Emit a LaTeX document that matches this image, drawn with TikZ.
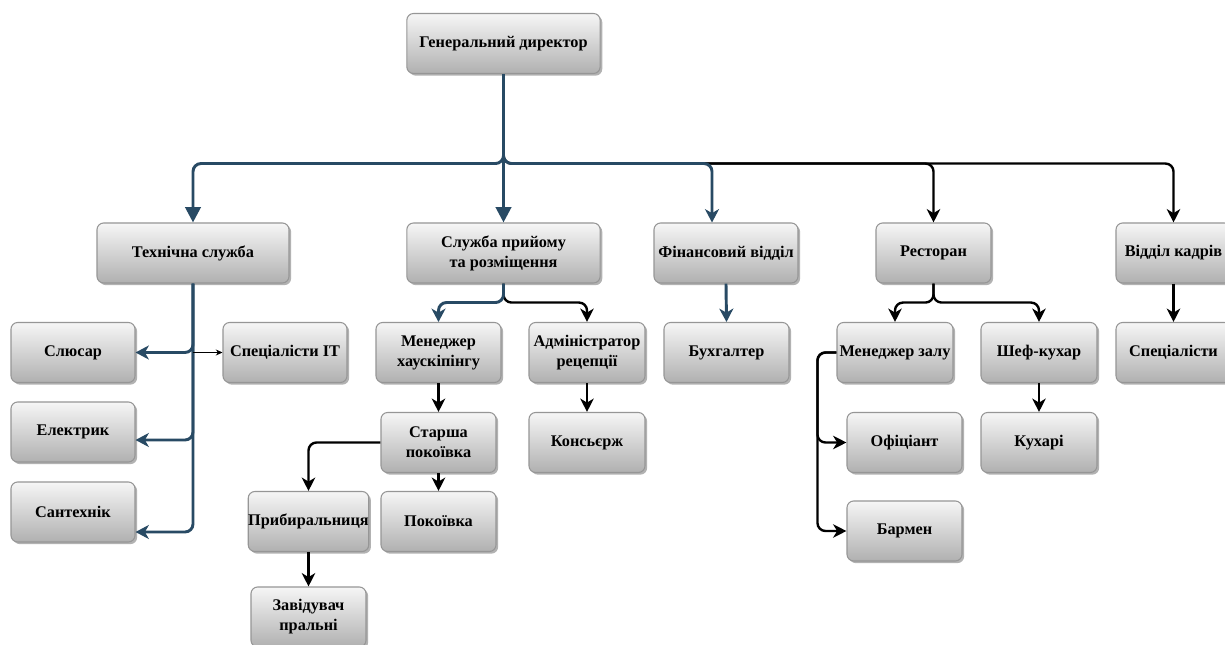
\documentclass[tikz,border=0pt]{standalone}
\usepackage{fontspec}
\setmainfont{Liberation Serif}
\usetikzlibrary{arrows.meta,shadows,calc}
\definecolor{lnblue}{RGB}{40,74,100}
\definecolor{boxborder}{RGB}{150,150,150}
\definecolor{boxtop}{RGB}{246,246,246}
\definecolor{boxbot}{RGB}{176,176,176}
\tikzset{
  box/.style={draw=boxborder, line width=0.8pt, rounded corners=5pt,
    top color=boxtop, bottom color=boxbot, minimum height=45pt,
    minimum width=#1, align=center, inner sep=0pt,
    font=\fontsize{12.2}{15}\selectfont\bfseries,
    drop shadow={shadow xshift=1.6pt, shadow yshift=-1.6pt, opacity=0.3, fill=black}},
  blueln/.style={draw=lnblue, line width=2.2pt, rounded corners=6pt},
  blackln/.style={draw=black, line width=1.8pt, rounded corners=6pt},
  bigtri/.style={-{Triangle[length=11.5pt,width=11.5pt]}},
  cls/.style={-{Stealth[length=10pt,width=10.5pt,inset=3pt]}},
  clsb/.style={-{Stealth[length=10pt,width=10pt,inset=3pt]}},
}
\begin{document}
\begin{tikzpicture}[x=0.75pt,y=-0.75pt]
\clip (0,0) rectangle (1225,645);
\fill[white] (0,0) rectangle (1225,645);
% nodes
\node[box=145pt] (gd) at (503.5,43.5) {Генеральний директор};
\node[box=144pt] (tech) at (193,253) {Технічна служба};
\node[box=145pt] (sl) at (503.5,253) {Служба прийому\\та розміщення};
\node[box=108pt] (fin) at (726,253) {Фінансовий відділ};
\node[box=86.25pt] (rest) at (933.5,253) {Ресторан};
\node[box=86.25pt] (kadr) at (1173.5,253) {Відділ кадрів};
\node[box=93pt] (slu) at (73,352.5) {Слюсар};
\node[box=93pt] (elek) at (73,432) {Електрик};
\node[box=93pt] (sant) at (73,512) {Сантехнік};
\node[box=93pt] (it) at (285,352.5) {Спеціалісти IT};
\node[box=93.75pt] (mh) at (438.5,352.5) {Менеджер\\хаускіпінгу};
\node[box=87pt] (adm) at (587,352.5) {Адміністратор\\рецепції};
\node[box=86.25pt] (star) at (438.5,442.5) {Старша\\покоївка};
\node[box=87pt] (kons) at (587,442.5) {Консьєрж};
\node[box=86.25pt] (pryb) at (308.5,521.5) {Прибиральниця};
\node[box=86.25pt] (pok) at (438.5,521.5) {Покоївка};
\node[box=86.25pt] (zav) at (308.5,617) {Завідувач\\пральні};
\node[box=93.75pt] (buh) at (726.5,352.5) {Бухгалтер};
\node[box=87pt] (mz) at (895,352.5) {Менеджер залу};
\node[box=87pt] (shef) at (1039,352.5) {Шеф-кухар};
\node[box=86.25pt] (spec) at (1173.5,352.5) {Спеціалісти};
\node[box=86.25pt] (ofi) at (904.5,442.5) {Офіціант};
\node[box=87pt] (kuh) at (1039,442.5) {Кухарі};
\node[box=86.25pt] (bar) at (904.5,531) {Бармен};
% top level
\draw[blackln,clsb] (gd.south) -- ++(0,89.5) -| (rest.north);
\draw[blackln,clsb] (gd.south) -- ++(0,89.5) -| (kadr.north);
\draw[blueln,bigtri] (gd.south) -- ++(0,89.5) -| (tech.north);
\draw[blueln,bigtri] (gd.south) -- (sl.north);
\draw[blueln,cls] (gd.south) -- ++(0,89.5) -| ([xshift=-10.5pt]fin.north);
\draw[blueln,cls] (fin.south) -- (buh.north);
% technical
\draw[blueln,cls] (tech.south) |- (slu.east);
\draw[blueln,cls] (tech.south) |- ([yshift=-6pt]elek.east);
\draw[blueln,cls] (tech.south) |- ([yshift=-15pt]sant.east);
\draw[black,line width=0.6pt,-{Stealth[length=5pt,width=4.5pt]}] (tech.south |- it.west) -- (it.west);
% reception
\draw[blackln,clsb] (sl.south) -- ++(0,19) -| (adm.north);
\draw[blueln,cls] (sl.south) -- ++(0,19) -| (mh.north);
\draw[blackln,clsb] (mh.south) -- (star.north);
\draw[blackln,clsb] (star.south) -- (pok.north);
\draw[blackln,clsb] (star.west) -| (pryb.north);
\draw[blackln,clsb] (pryb.south) -- (zav.north);
\draw[blackln,clsb] (adm.south) -- (kons.north);
% restaurant
\draw[blackln,clsb] (rest.south) -- ++(0,19) -| (mz.north);
\draw[blackln,clsb] (rest.south) -- ++(0,19) -| (shef.north);
\draw[blackln,clsb] (mz.west) -- ++(-19,0) |- (ofi.west);
\draw[blackln,clsb] (mz.west) -- ++(-19,0) |- (bar.west);
\draw[blackln,clsb] (shef.south) -- (kuh.north);
\draw[blackln,clsb] (kadr.south) -- (spec.north);
\end{tikzpicture}
\end{document}
